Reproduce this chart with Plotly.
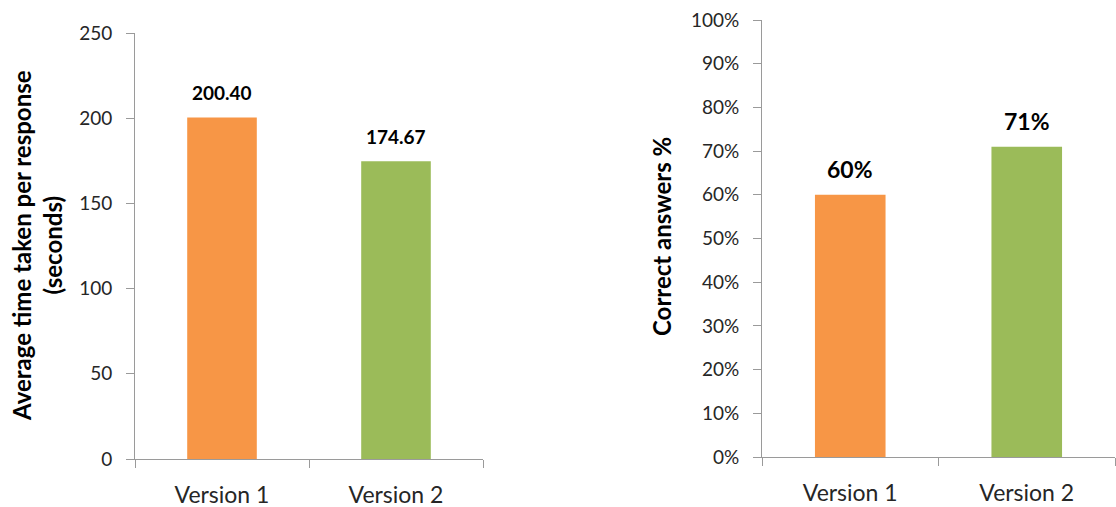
import plotly.graph_objects as go

categories = ["Version 1", "Version 2"]
time_values = [200.40, 174.67]
correct_values = [0.60, 0.71]
bar_colors = ["#F79646", "#9BBB59"]
left_title = "Average time taken per response<br>(seconds)"
right_title = "Correct answers %"

W, H = 1116, 507
FONT = "Lato"
AXIS_COLOR = "#9A9A9A"
TEXT_COLOR = "#262626"

fig = go.Figure()
fig.add_trace(go.Bar(x=categories, y=time_values, marker_color=bar_colors,
                     marker_line_width=0, width=0.4, xaxis="x", yaxis="y",
                     hoverinfo="skip"))
fig.add_trace(go.Bar(x=categories, y=correct_values, marker_color=bar_colors,
                     marker_line_width=0, width=0.4, xaxis="x2", yaxis="y2",
                     hoverinfo="skip"))

for c, v in zip(categories, time_values):
    fig.add_annotation(x=c, y=v, xref="x", yref="y", text=f"<b>{v:.2f}</b>",
                       showarrow=False, yanchor="middle", yshift=25,
                       font=dict(family=FONT, size=19, color="#000000"))
for c, v in zip(categories, correct_values):
    fig.add_annotation(x=c, y=v, xref="x2", yref="y2", text=f"<b>{v*100:.0f}%</b>",
                       showarrow=False, yanchor="middle", yshift=26,
                       font=dict(family=FONT, size=23, color="#000000"))

# axis titles
fig.add_annotation(x=37 / W, y=1 - 246 / H, xref="paper", yref="paper",
                   text=f"<b>{left_title}</b>", textangle=-90, showarrow=False,
                   xanchor="center", yanchor="middle",
                   font=dict(family=FONT, size=24, color="#000000"))
fig.add_annotation(x=662 / W, y=1 - 237 / H, xref="paper", yref="paper",
                   text=f"<b>{right_title}</b>", textangle=-90, showarrow=False,
                   xanchor="center", yanchor="middle",
                   font=dict(family=FONT, size=24, color="#000000"))

def px_x(a, b):
    return [a / W, b / W]

def px_y(top, bottom):
    return [1 - bottom / H, 1 - top / H]

common_x = dict(type="category", showline=True, linecolor=AXIS_COLOR, linewidth=1,
                ticks="outside", tickson="boundaries", ticklen=8, tickcolor=AXIS_COLOR,
                showgrid=False, zeroline=False, ticklabelstandoff=15, automargin=False,
                tickfont=dict(family=FONT, size=23, color=TEXT_COLOR))
common_y = dict(showline=True, linecolor=AXIS_COLOR, linewidth=1, ticks="outside",
                ticklen=8, tickcolor=AXIS_COLOR, showgrid=False, zeroline=False,
                ticklabelstandoff=10, automargin=False,
                tickfont=dict(family=FONT, size=19, color=TEXT_COLOR))

fig.update_layout(
    width=W, height=H,
    margin=dict(l=0, r=0, t=0, b=0),
    paper_bgcolor="white", plot_bgcolor="white",
    showlegend=False, bargap=0.6,
    xaxis=dict(domain=px_x(135, 483), anchor="y", **common_x),
    yaxis=dict(domain=px_y(33, 459), anchor="x", range=[0, 250], dtick=50, **common_y),
    xaxis2=dict(domain=px_x(762, 1115), anchor="y2", **common_x),
    yaxis2=dict(domain=px_y(20, 457), anchor="x2", range=[0, 1], dtick=0.1,
                tickformat=".0%", **common_y),
)

fig.write_html("out.html")
